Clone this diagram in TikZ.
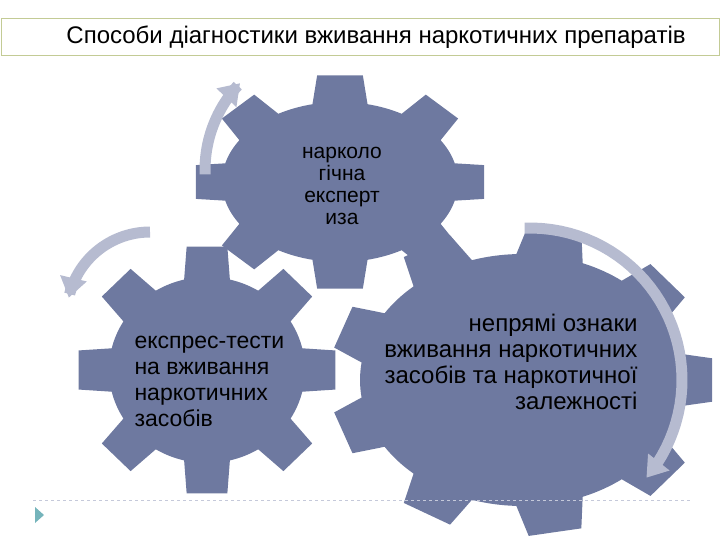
\documentclass[tikz,border=0pt]{standalone}
\usepackage{fontspec}
\setmainfont{Liberation Sans}
\usetikzlibrary{arrows.meta}
\definecolor{gearc}{HTML}{6E79A0}
\definecolor{arrc}{HTML}{B6BBD0}
\definecolor{boxc}{HTML}{C3CB95}
\newcommand{\mygear}[6]{% cx cy rx ry ext N
  \fill[gearc] ({#1+#3},{#2}) \foreach \i in {1,...,#6}{
    -- ({#1+#3*cos(360/#6*\i-0.3*360/#6)},{#2+#4*sin(360/#6*\i-0.3*360/#6)})
    -- ({#1+(#3+#5)*cos(360/#6*\i-0.2*360/#6)},{#2+(#4+#5)*sin(360/#6*\i-0.2*360/#6)})
    -- ({#1+(#3+#5)*cos(360/#6*\i+0.2*360/#6)},{#2+(#4+#5)*sin(360/#6*\i+0.2*360/#6)})
    -- ({#1+#3*cos(360/#6*\i+0.3*360/#6)},{#2+#4*sin(360/#6*\i+0.3*360/#6)})
    arc[start angle={360/#6*\i+0.3*360/#6}, end angle={360/#6*\i+0.7*360/#6}, x radius=#3, y radius=#4]
  } -- cycle;}
\tikzset{bigarrow/.style={draw=arrc, line width=11pt, -{Triangle[length=20pt,width=26pt]}},
  gtext/.style={font=\fontsize{21}{22}\selectfont, text=black, align=center}}
\begin{document}
\begin{tikzpicture}[x=1pt,y=-1pt]
\useasboundingbox (0,0) rectangle (720,540);
\node[draw=boxc, line width=0.8pt, minimum width=718, minimum height=37, inner sep=0] (title) at (360,37) {};
\node[font=\fontsize{24}{26}\selectfont] (tt) at (376,37) {Способи діагностики вживання наркотичних препаратів};
\mygear{340}{182}{118}{80}{28}{8}
\mygear{207}{370}{98}{93}{32}{8}
\mygear{522}{380}{162}{126}{30}{9}
\draw[bigarrow] plot[domain=178:224, samples=30] ({330+125*cos(\x)},{170+125*sin(\x)});
\draw[bigarrow] plot[domain=270:192, samples=30] ({150+83*cos(\x)},{315+83*sin(\x)});
\draw[bigarrow] plot[domain=-92:40, samples=40] ({530+152*cos(\x)},{380+152*sin(\x)});
\node[gtext] (t1) at (342,186) {нарколо\\гічна\\експерт\\иза};
\node[gtext, align=left, anchor=west, font=\fontsize{23}{26}\selectfont] (t2) at (131,381) {експрес-тести\\на вживання\\наркотичних\\засобів};
\node[gtext, align=right, anchor=east, font=\fontsize{24}{26}\selectfont] (t3) at (641,362) {непрямі ознаки\\вживання наркотичних\\засобів та наркотичної\\залежності};
\draw[arrc!80, dashed, line width=0.6pt] (33,500) coordinate (d1) -- (690,500) coordinate (d2);
\fill[arrc!60!cyan!60!gray] (35,507) coordinate (m1) -- (44,515) -- (35,523) -- cycle;
\end{tikzpicture}
\end{document}
